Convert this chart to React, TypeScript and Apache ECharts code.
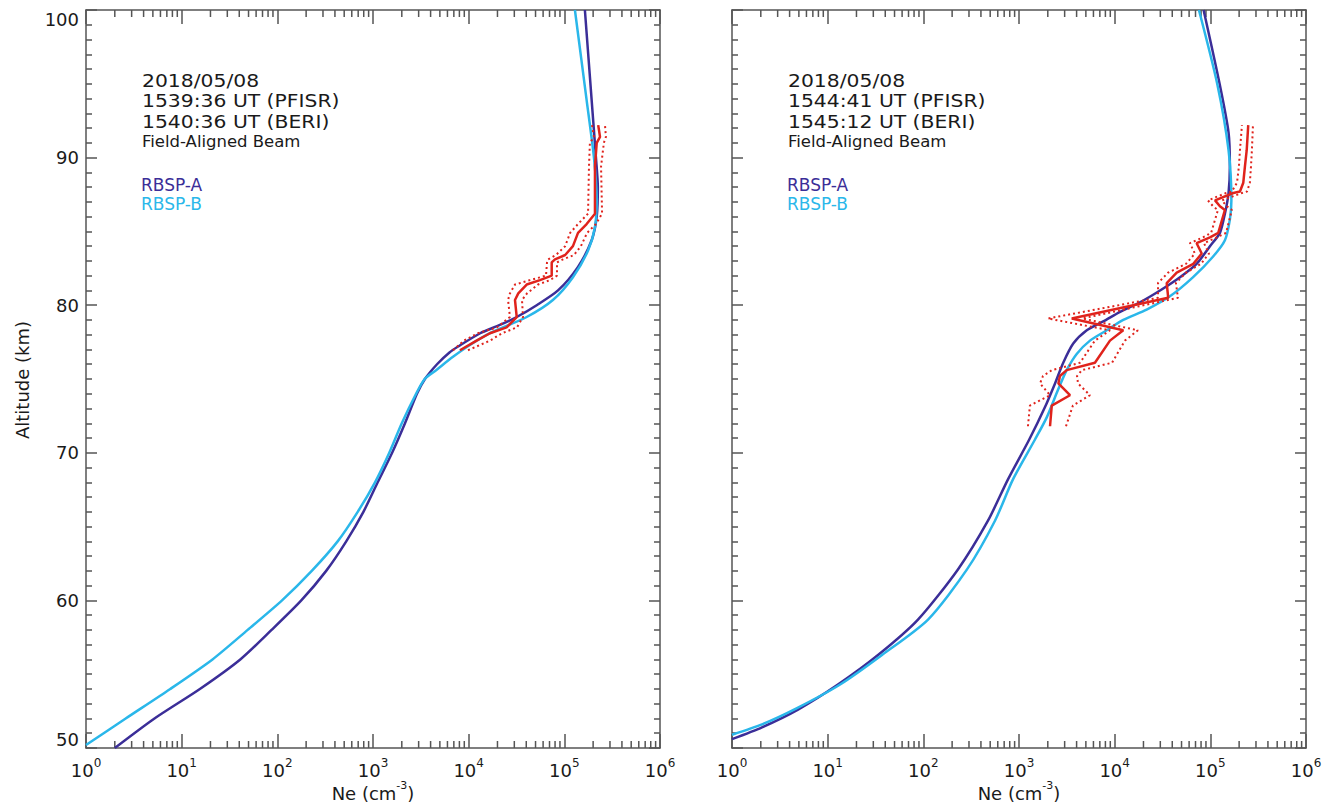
import React, { useEffect, useRef } from 'react';
import * as echarts from 'echarts';

const FONT = '"DejaVu Sans", "Liberation Sans", sans-serif';
const DARK = '#3b2e98';
const LIGHT = '#2ab7ea';
const RED = '#e0231c';
const AXIS = '#555555';
const TXT = '#1a1a1a';

// ---------- Left panel (1539:36 / 1540:36 UT) ----------
const leftA_alt = [50, 52, 54, 56, 58, 60, 62, 64, 66, 68, 70, 72, 74, 75, 76, 76.8, 77.2, 78.1, 78.66, 79.2, 80, 81, 82.6, 84.4, 86, 88, 90, 93.9, 100];
const leftA_ne = [2.0, 5.2, 15.5, 41, 87, 178, 324, 525, 794, 1120, 1585, 2160, 2880, 3490, 4670, 6300, 7760, 13200, 21200, 31800, 51400, 85900, 139000, 193000, 218000, 224000, 214000, 193000, 164000];

const leftB_alt = [50.2, 52, 54, 56, 58, 60, 62, 64, 66, 68, 70, 72, 74, 75, 75.6, 76.5, 77.3, 78.1, 79.2, 80.35, 81.9, 83.7, 85.3, 87.1, 90, 93.9, 100];
const leftB_ne = [1.0, 2.6, 7.6, 21, 49, 112, 229, 427, 692, 1050, 1480, 2000, 2820, 3470, 4570, 6860, 10300, 16700, 40400, 75900, 123000, 177000, 209000, 218000, 204000, 171000, 129000];

const leftR_alt = [76.95, 77.6, 78.1, 78.5, 79.2, 80.35, 80.8, 81.4, 81.7, 82.0, 82.9, 83.1, 83.4, 84.0, 84.9, 85.5, 86.2, 89.4, 91.0, 91.4, 92.2];
const leftR_ne = [8100, 12100, 16700, 24900, 31800, 30500, 33000, 40400, 55600, 73800, 73800, 79800, 102000, 123000, 139000, 171000, 209000, 209000, 218000, 236000, 226000];
const leftR_low = [6860, 8930, 12500, 19800, 27000, 25800, 27000, 30500, 43700, 64300, 65900, 67500, 81800, 102000, 115000, 139000, 177000, 181000, 185000, 204000, 194600];
const leftR_up = [9840, 16700, 22300, 32000, 37000, 36100, 40700, 53100, 70800, 83800, 83800, 96800, 126000, 149000, 173000, 214000, 248000, 242000, 259000, 272000, 266000];

// ---------- Right panel (1544:41 / 1545:12 UT) ----------
const rightA_alt = [50.6, 51.4, 52.6, 54.3, 56.3, 58.7, 62.1, 65.4, 68.2, 70.9, 73.1, 74.7, 76.1, 77.4, 78.3, 78.9, 79.55, 80.2, 81.0, 81.9, 82.8, 84.0, 84.9, 86.2, 87.6, 89.4, 91.7, 95, 100];
const rightA_ne = [1.0, 2.06, 4.9, 12.8, 33.6, 87.9, 230, 474, 767, 1280, 1870, 2380, 2900, 3690, 5110, 7600, 11400, 18400, 29800, 48200, 71900, 99100, 126000, 142000, 155000, 160000, 155000, 125000, 85000];

const rightB_alt = [50.9, 51.6, 52.7, 54.3, 56.3, 58.7, 62.1, 65.4, 68.2, 70.9, 72.4, 74.3, 75.6, 76.7, 77.6, 78.3, 79.0, 79.7, 80.6, 81.9, 83.3, 84.4, 85.8, 87.1, 90.5, 95, 100];
const rightB_ne = [1.0, 2.06, 4.78, 13.5, 37.0, 112, 286, 561, 865, 1470, 1950, 2570, 3150, 4010, 5520, 8260, 12300, 21600, 37800, 66100, 107000, 142000, 160000, 166000, 155000, 118000, 76000];

const rightR_alt = [71.8, 73.2, 73.9, 74.7, 75.2, 75.6, 76.1, 77.6, 78.3, 79.1, 80.5, 81.5, 82.2, 82.8, 83.5, 84.2, 84.6, 84.9, 86.45, 86.7, 87.1, 87.6, 87.7, 88.3, 89.4, 90.5, 92.2];
const rightR_ne = [2110, 2200, 3410, 2580, 2680, 3150, 6220, 8930, 12300, 3560, 36300, 35000, 44500, 66400, 81300, 71900, 99100, 121000, 142000, 126000, 112000, 174000, 204000, 221000, 230000, 240000, 249000];
const rightR_low = [1240, 1300, 2110, 1660, 1780, 2210, 4340, 6220, 8930, 2010, 28400, 28400, 36100, 55600, 69000, 61200, 83800, 102000, 120000, 107000, 94400, 146000, 168000, 190000, 199000, 204000, 214000];
const rightR_up = [3100, 3660, 5520, 4140, 4040, 4550, 9380, 12800, 17500, 4600, 45900, 43700, 55600, 79800, 96800, 85900, 117000, 146000, 168000, 149000, 132000, 214000, 242000, 259000, 266000, 272000, 279000];

// ---------- Texts ----------
const leftTexts = ['2018/05/08', '1539:36 UT (PFISR)', '1540:36 UT (BERI)', 'Field-Aligned Beam'];
const rightTexts = ['2018/05/08', '1544:41 UT (PFISR)', '1545:12 UT (BERI)', 'Field-Aligned Beam'];
const legendNames = ['RBSP-A', 'RBSP-B'];

// minor tick positions on the log axis (2..9 x each decade)
const minorMultipliers = [2, 3, 4, 5, 6, 7, 8, 9];
const decades = [1, 10, 100, 1000, 10000, 100000];
const minorTickValues: number[] = [];
decades.forEach((d) => minorMultipliers.forEach((m) => minorTickValues.push(m * d)));

const zip = (alt: number[], ne: number[]) => alt.map((a, i) => [ne[i], a]);

const lineStyleAxis = { color: AXIS, width: 1.5 };

function bottomX(grid: number) {
  return {
    type: 'log', logBase: 10, gridIndex: grid, min: 1, max: 1e6, position: 'bottom',
    axisLine: { show: true, onZero: false, lineStyle: lineStyleAxis },
    axisTick: { show: true, inside: true, length: 14, lineStyle: lineStyleAxis },
    splitLine: { show: false },
    axisLabel: {
      margin: 9,
      color: TXT,
      formatter: (v: number) => `{n|10}{s|${Math.round(Math.log10(v))}}`,
      rich: {
        n: { fontSize: 18, fontFamily: FONT, color: TXT, lineHeight: 26 },
        s: { fontSize: 12, fontFamily: FONT, color: TXT, verticalAlign: 'top', lineHeight: 14 },
      },
    },
  };
}
function topX(grid: number) {
  return {
    type: 'log', logBase: 10, gridIndex: grid, min: 1, max: 1e6, position: 'top',
    axisLine: { show: true, onZero: false, lineStyle: lineStyleAxis },
    axisTick: { show: true, inside: true, length: 14, lineStyle: lineStyleAxis },
    splitLine: { show: false },
    axisLabel: { show: false },
  };
}
function yAx(grid: number, position: string, labels: boolean) {
  return {
    type: 'value', gridIndex: grid, min: 50, max: 100, interval: 10, position,
    axisLine: { show: true, onZero: false, lineStyle: lineStyleAxis },
    axisTick: { show: true, inside: true, length: 11, lineStyle: lineStyleAxis },
    minorTick: { show: true, splitNumber: 10, length: 6, lineStyle: lineStyleAxis },
    splitLine: { show: false },
    axisLabel: labels
      ? { show: true, margin: 7, fontSize: 18, fontFamily: FONT, color: TXT, verticalAlignMaxLabel: 'top', verticalAlignMinLabel: 'bottom' }
      : { show: false },
  };
}

function minorTickSeries(xi: number, yi: number) {
  return {
    type: 'custom',
    xAxisIndex: xi,
    yAxisIndex: yi,
    silent: true,
    clip: false,
    data: minorTickValues.map((v) => [v, 50]),
    renderItem: (_p: any, api: any) => {
      const v = api.value(0);
      const b = api.coord([v, 50]);
      const t = api.coord([v, 100]);
      const st = { stroke: AXIS, lineWidth: 1.5 };
      return {
        type: 'group',
        children: [
          { type: 'line', shape: { x1: b[0], y1: b[1], x2: b[0], y2: b[1] - 7 }, style: st },
          { type: 'line', shape: { x1: t[0], y1: t[1], x2: t[0], y2: t[1] + 7 }, style: st },
        ],
      };
    },
  };
}

function lineSeries(name: string, data: number[][], xi: number, yi: number, color: string, width: number, dotted = false, smooth: number | boolean = false) {
  return {
    type: 'line', name, data, xAxisIndex: xi, yAxisIndex: yi,
    showSymbol: false, symbol: 'none', smooth, silent: true,
    lineStyle: { color, width, type: dotted ? [2, 3] : 'solid' },
  };
}

function annotation(dx: number, texts: string[]) {
  const ys = [81.2, 101.2, 121.5];
  const els: any[] = [];
  texts.slice(0, 3).forEach((t, i) => {
    els.push({ type: 'text', x: 142 + dx, y: ys[i], scaleX: 1.13, style: { text: t, fontSize: 18, fontFamily: FONT, fill: TXT, align: 'left', verticalAlign: 'middle' } });
  });
  els.push({ type: 'text', x: 142 + dx, y: 141.7, scaleX: 1.1, style: { text: texts[3], fontSize: 15, fontFamily: FONT, fill: TXT, align: 'left', verticalAlign: 'middle' } });
  els.push({ type: 'text', x: 141 + dx, y: 184.5, style: { text: legendNames[0], fontSize: 17, fontFamily: FONT, fill: DARK, align: 'left', verticalAlign: 'middle' } });
  els.push({ type: 'text', x: 141 + dx, y: 204.2, style: { text: legendNames[1], fontSize: 17, fontFamily: FONT, fill: LIGHT, align: 'left', verticalAlign: 'middle' } });
  els.push({
    type: 'text', x: 373 + dx, y: 793,
    style: {
      text: 'Ne (cm{s|-3})', fontSize: 18, fontFamily: FONT, fill: TXT, align: 'center', verticalAlign: 'middle',
      rich: {
        s: { fontSize: 11, fontFamily: FONT, fill: TXT, verticalAlign: 'top', lineHeight: 12 },
      },
      lineHeight: 26,
    },
  });
  return els;
}

const option: any = {
  animation: false,
  backgroundColor: '#ffffff',
  grid: [
    { left: 86, top: 10, width: 574, height: 738 },
    { left: 732, top: 10, width: 574, height: 738 },
  ],
  xAxis: [bottomX(0), topX(0), bottomX(1), topX(1)],
  yAxis: [yAx(0, 'left', true), yAx(0, 'right', false), yAx(1, 'left', false), yAx(1, 'right', false)],
  series: [
    minorTickSeries(0, 0),
    minorTickSeries(2, 2),
    lineSeries('RBSP-A', zip(leftA_alt, leftA_ne), 0, 0, DARK, 2.5, false, 0.25),
    lineSeries('RBSP-B', zip(leftB_alt, leftB_ne), 0, 0, LIGHT, 2.5, false, 0.25),
    lineSeries('PFISR low', zip(leftR_alt, leftR_low), 0, 0, RED, 2, true),
    lineSeries('PFISR up', zip(leftR_alt, leftR_up), 0, 0, RED, 2, true),
    lineSeries('PFISR', zip(leftR_alt, leftR_ne), 0, 0, RED, 2.5),
    lineSeries('RBSP-A', zip(rightA_alt, rightA_ne), 2, 2, DARK, 2.5, false, 0.25),
    lineSeries('RBSP-B', zip(rightB_alt, rightB_ne), 2, 2, LIGHT, 2.5, false, 0.25),
    lineSeries('PFISR low', zip(rightR_alt, rightR_low), 2, 2, RED, 2, true),
    lineSeries('PFISR up', zip(rightR_alt, rightR_up), 2, 2, RED, 2, true),
    lineSeries('PFISR', zip(rightR_alt, rightR_ne), 2, 2, RED, 2.5),
  ],
  graphic: [
    ...annotation(0, leftTexts),
    ...annotation(646, rightTexts),
    {
      type: 'text', x: 22, y: 380, rotation: Math.PI / 2,
      style: { text: 'Altitude (km)', fontSize: 18, fontFamily: FONT, fill: TXT, align: 'center', verticalAlign: 'middle' },
    },
  ],
};

export default function App() {
  const ref = useRef<HTMLDivElement>(null);
  useEffect(() => {
    const chart = echarts.init(ref.current as HTMLDivElement, null, { renderer: 'svg' });
    chart.setOption(option);
    return () => chart.dispose();
  }, []);
  return (
    <div
      ref={ref}
      style={{ position: 'absolute', left: 0, top: 0, width: 1334, height: 807, background: '#fff' }}
    />
  );
}
